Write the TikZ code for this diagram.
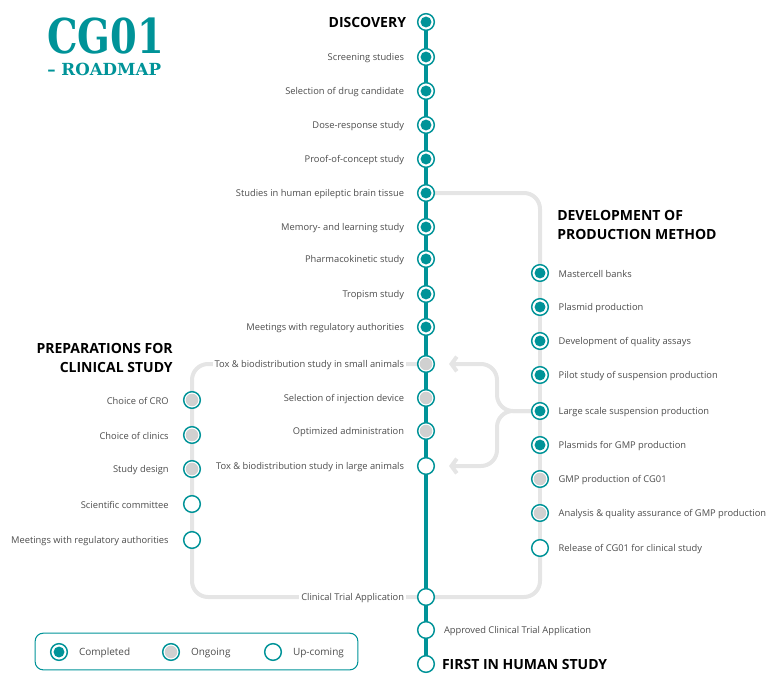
\documentclass[tikz,border=0pt]{standalone}
\usepackage{fontspec}
\setmainfont{Open Sans}
\newfontfamily\slabfont{DejaVu Serif}
\usetikzlibrary{positioning,arrows.meta,backgrounds}

\definecolor{cgteal}{RGB}{0,147,152}
\definecolor{cgline}{RGB}{229,229,229}
\definecolor{cgfill}{RGB}{208,208,208}
\definecolor{cgtext}{RGB}{77,77,77}

\tikzset{
  milestone/.style={circle, draw=cgteal, line width=1.1pt, fill=white, minimum size=12.5pt, inner sep=0pt},
  mdone/.style={milestone, path picture={\fill[cgteal] (path picture bounding box.center) circle (4.1pt);}},
  mbusy/.style={milestone, path picture={\fill[cgfill] (path picture bounding box.center) circle (4.7pt);}},
  mtodo/.style={milestone},
  txt/.style={font=\fontsize{7}{8}\selectfont, text=cgtext, fill=white, inner sep=1.5pt, yshift=-0.8pt},
  heading/.style={font=\bfseries\fontsize{10.5}{14}\selectfont, text=black, inner sep=0pt},
  branch/.style={cgline, line width=3pt, rounded corners=12pt},
  flow/.style={branch, -{Straight Barb[length=4pt, width=11pt]}},
}

\begin{document}
\begin{tikzpicture}[x=0.75pt, y=-0.75pt]
  \useasboundingbox (0,0) rectangle (784,688);

  % Title
  \node[anchor=base west, inner sep=0pt, text=cgteal, font=\slabfont\bfseries\fontsize{36}{36}\selectfont] (title) at (47,54) {\scalebox{0.8}[1]{CG01}};
  \node[anchor=base west, inner sep=0pt, text=cgteal, font=\slabfont\bfseries\fontsize{12.5}{13}\selectfont] (subtitle) at (47,76) {– ROADMAP};

  % Main track
  \node[mdone] (d0) at (426,22) {};
  \node[heading, left=8pt of d0] (discovery) {DISCOVERY};
  \foreach \y/\m/\t [count=\i] in {57/mdone/Screening studies,
      91/mdone/Selection of drug candidate,
      125/mdone/Dose-response study,
      159/mdone/Proof-of-concept study,
      193/mdone/Studies in human epileptic brain tissue,
      227/mdone/Memory- and learning study,
      259/mdone/Pharmacokinetic study,
      294/mdone/Tropism study,
      327/mdone/Meetings with regulatory authorities,
      364/mbusy/Tox \& biodistribution study in small animals,
      398/mbusy/Selection of injection device,
      431/mbusy/Optimized administration,
      466/mtodo/Tox \& biodistribution study in large animals,
      597/mtodo/Clinical Trial Application} {
    \node[\m] (d\i) at (426,\y) {};
    \node[txt, left=8pt of d\i] (dl\i) {\t};
  }
  \node[mtodo] (d15) at (426,630) {};
  \node[txt, right=5pt of d15] (dl15) {Approved Clinical Trial Application};
  \node[mtodo] (d16) at (426,664) {};
  \node[heading, right=5pt of d16] (fih) {FIRST IN HUMAN STUDY};

  % Production method branch
  \node[heading, align=left, anchor=west] (prodhead) at (557,225) {DEVELOPMENT OF\\PRODUCTION METHOD};
  \foreach \y/\m/\t [count=\i] in {273/mdone/Mastercell banks,
      307/mdone/Plasmid production,
      341/mdone/Development of quality assays,
      375/mdone/Pilot study of suspension production,
      411/mdone/Large scale suspension production,
      445/mdone/Plasmids for GMP production,
      479/mbusy/GMP production of CG01,
      513/mbusy/Analysis \& quality assurance of GMP production,
      548/mtodo/Release of CG01 for clinical study} {
    \node[\m] (r\i) at (540,\y) {};
    \node[txt, right=5.5pt of r\i] (rl\i) {\t};
  }

  % Clinical preparation branch
  \node[heading, align=right, anchor=east] (prephead) at (173,358) {PREPARATIONS FOR\\CLINICAL STUDY};
  \foreach \y/\m/\t [count=\i] in {400/mbusy/Choice of CRO,
      435/mbusy/Choice of clinics,
      469/mbusy/Study design,
      504/mtodo/Scientific committee,
      540/mtodo/Meetings with regulatory authorities} {
    \node[\m] (l\i) at (192,\y) {};
    \node[txt, left=9pt of l\i] (ll\i) {\t};
  }

  % Arrow ends
  \coordinate (fork) at (497,411);
  \coordinate (smallend) at (449,364);
  \coordinate (largeend) at (449,466);

  % Lines behind the milestones
  \begin{scope}[on background layer]
    \draw[branch] (d5.center) -| (r1.center);
    \draw[branch] (r1.center) -- (r9.center);
    \draw[branch] (r9.center) |- (d14.center);
    \draw[branch] (d10.center) -| (l1.center);
    \draw[branch] (l1.center) |- (d14.center);
    \draw[flow] (r5.center) -- (fork) |- (smallend);
    \draw[flow] (r5.center) -- (fork) |- (largeend);
    \draw[cgteal, line width=3pt] (d0.center) -- (d16.center);
  \end{scope}

  % Legend
  \node[draw=cgteal, line width=0.8pt, rounded corners=6pt, minimum width=242pt, minimum height=27.5pt] (legend) at (196.5,651.5) {};
  \node[mdone] (k1) at (59,652) {};
  \node[txt, font=\fontsize{7.5}{9}\selectfont, right=6.5pt of k1] (kl1) {Completed};
  \node[mbusy] (k2) at (171,652) {};
  \node[txt, font=\fontsize{7.5}{9}\selectfont, right=6.5pt of k2] (kl2) {Ongoing};
  \node[mtodo] (k3) at (273,652) {};
  \node[txt, font=\fontsize{7.5}{9}\selectfont, right=6.5pt of k3] (kl3) {Up-coming};
\end{tikzpicture}
\end{document}
